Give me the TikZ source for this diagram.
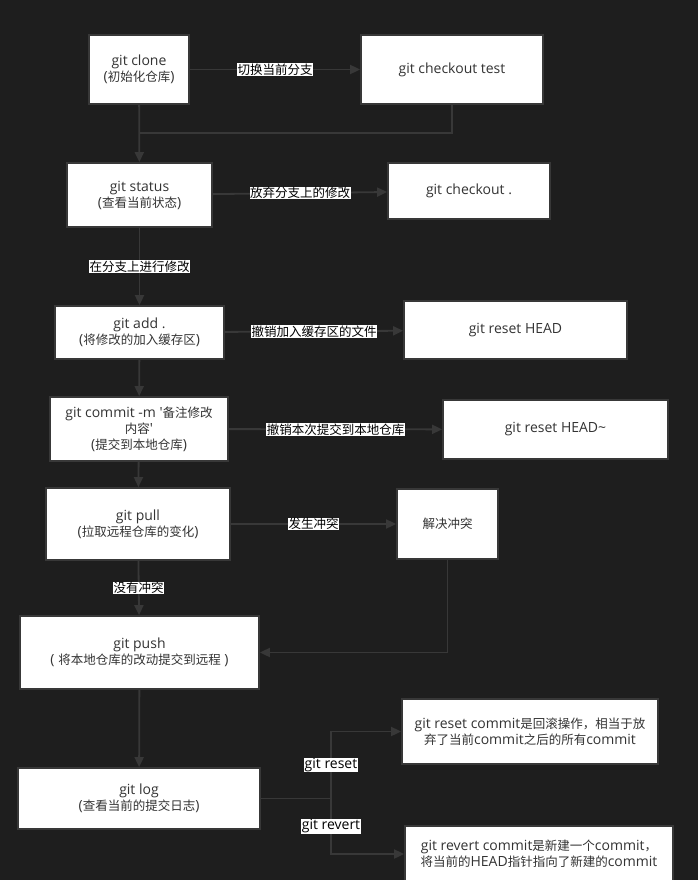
\documentclass[tikz,border=0pt]{standalone}
\usepackage{fontspec}
\setmainfont[Scale=1.12]{Open Sans}
\newfontfamily\cjk{Noto Sans CJK SC}
\usepackage{tikz}
\usetikzlibrary{backgrounds}
\usetikzlibrary{arrows.meta}
\definecolor{bgdark}{HTML}{1E1E1E}
\definecolor{edgegray}{HTML}{383838}
\definecolor{txtgray}{HTML}{333333}
\tikzset{every picture/.style={line width=1.8pt,show background rectangle},background rectangle/.style={fill=bgdark},inner frame sep=0pt}
\tikzset{cmd/.style={draw=edgegray, fill=white, text=txtgray, align=center, inner sep=2pt, font=\fontsize{12.5pt}{16pt}\selectfont},
lbl/.style={fill=white, text=black, inner sep=0.5pt, font=\fontsize{12.5pt}{15pt}\selectfont},
flow/.style={draw=edgegray, -{Triangle[length=10pt,width=9pt]}}}

\begin{document}
\begin{tikzpicture}[x=1pt, y=-1pt]
\useasboundingbox (0,0) rectangle (698,880);
\node (clone) [cmd, minimum width=100pt, minimum height=69pt] at (139,69.5) {git clone\\({\cjk 初始化仓库})};
\node (test) [cmd, minimum width=182pt, minimum height=69pt] at (452,69.5) {git checkout test};
\node (status) [cmd, minimum width=145pt, minimum height=64pt] at (139.5,195) {git status\\({\cjk 查看当前状态})};
\node (discard) [cmd, minimum width=162pt, minimum height=56pt] at (469,191) {git checkout .};
\node (add) [cmd, minimum width=169pt, minimum height=53pt] at (139.5,332.5) {git add .\\({\cjk 将修改的加入缓存区})};
\node (unstage) [cmd, minimum width=223pt, minimum height=58pt] at (515.5,330) {git reset HEAD};
\node (commit) [cmd, minimum width=178pt, minimum height=64pt] at (139,429) {git commit -m \textquotesingle{\cjk 备注修改}\\{\cjk 内容}\textquotesingle\\({\cjk 提交到本地仓库})};
\node (undo) [cmd, minimum width=225pt, minimum height=59pt] at (555.5,429.5) {git reset HEAD\textasciitilde};
\node (pull) [cmd, minimum width=184pt, minimum height=72pt] at (138,524) {git pull\\({\cjk 拉取远程仓库的变化})};
\node (solve) [cmd, minimum width=101pt, minimum height=70pt] at (447.5,524) {{\cjk 解决冲突}};
\node (push) [cmd, minimum width=239pt, minimum height=73pt] at (139.5,652.5) {git push\\( {\cjk 将本地仓库的改动提交到远程} )};
\node (log) [cmd, minimum width=242pt, minimum height=61pt] at (139,798.5) {git log\\({\cjk 查看当前的提交日志})};
\node (resetc) [cmd, minimum width=256pt, minimum height=65pt] at (530,731.5) {git reset commit{\cjk 是回滚操作，相当于放}\\{\cjk 弃了当前}commit{\cjk 之后的所有}commit};
\node (revertc) [cmd, minimum width=268pt, minimum height=56pt] at (539,854) {git revert commit{\cjk 是新建一个}commit{\cjk ，}\\{\cjk 将当前的}HEAD{\cjk 指针指向了新建的}commit};
\coordinate (join) at (139,133);
\coordinate (split) at (331,798.5);
% main line
\draw[flow] (clone) -- node[lbl] {\cjk 切换当前分支} (test);
\draw[flow] (clone) -- (status);
\draw[draw=edgegray] (test.south) |- (join);
\draw[flow] (status) -- node[lbl] {\cjk 放弃分支上的修改} (discard);
\draw[flow] (status) -- node[lbl] {\cjk 在分支上进行修改} (add);
\draw[flow] (add) -- node[lbl] {\cjk 撤销加入缓存区的文件} (unstage);
\draw[flow] (add) -- (commit);
\draw[flow] (commit) -- node[lbl] {\cjk 撤销本次提交到本地仓库} (undo);
\draw[flow] (commit) -- (pull);
\draw[flow] (pull) -- node[lbl] {\cjk 发生冲突} (solve);
\draw[flow] (pull) -- node[lbl] {\cjk 没有冲突} (push);
\draw[flow] (solve) |- (push);
\draw[flow] (push) -- (log);
\draw[draw=edgegray] (log) -- (split);
\draw[flow] (split) |- node[lbl, pos=0.25] {git reset} (resetc);
\draw[flow] (split) |- node[lbl, pos=0.25] {git revert} (revertc);
\end{tikzpicture}
\end{document}
